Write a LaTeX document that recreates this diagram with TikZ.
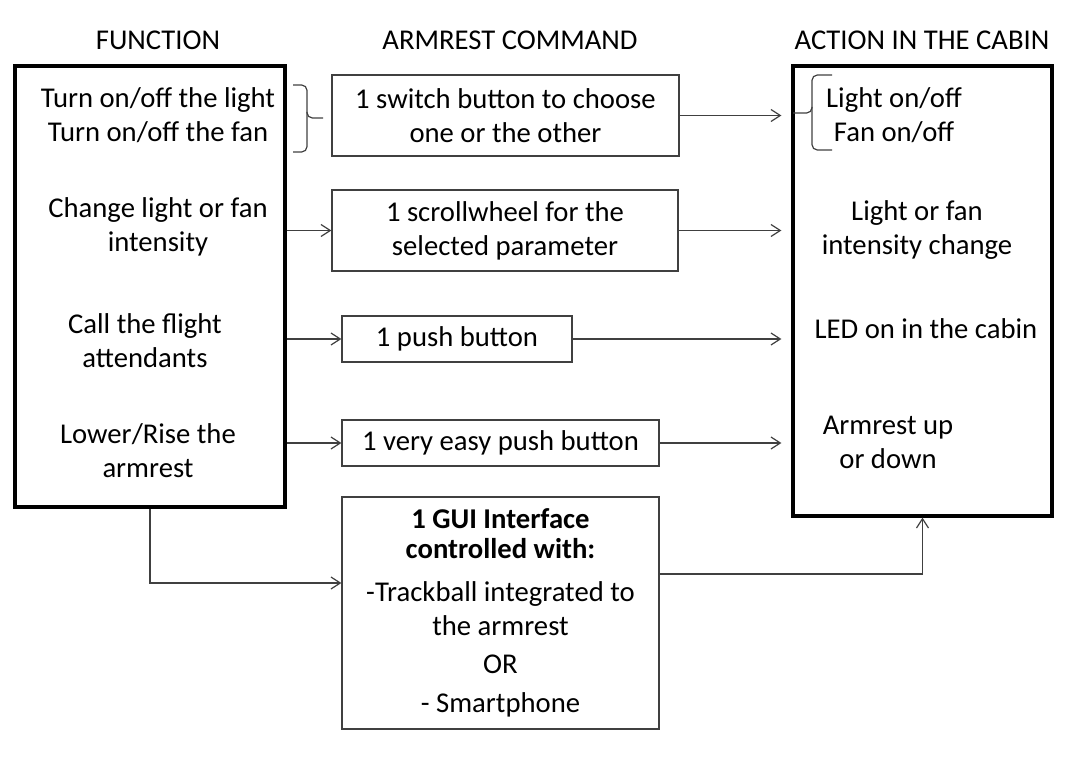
\documentclass[tikz,border=0pt]{standalone}
\usepackage{fontspec}
\setmainfont{Carlito}
\usetikzlibrary{arrows.meta,calc,positioning}

\begin{document}
\begin{tikzpicture}[x=0.75pt,y=-0.75pt,>={Straight Barb[length=7pt,width=9pt]},
  every node/.style={font=\fontsize{21.5}{25.5}\selectfont,align=center,inner sep=0pt},
  colbox/.style={draw=black,line width=2.4pt},
  cmdbox/.style={draw=black!75,line width=0.9pt},
  link/.style={->,draw=black!75,line width=0.9pt},
  brace/.style={draw=black!75,line width=0.9pt,rounded corners=4pt}]
\useasboundingbox (0,0) rectangle (1072,762);
% column headings
\node (hfun) at (158,40) {FUNCTION};
\node (hcmd) at (510,40) {ARMREST COMMAND};
\node (hact) at (922,40) {ACTION IN THE CABIN};
% the two outer columns
\node[colbox,minimum width=202.5pt,minimum height=330.75pt] (func) at (150,286.5) {};
\node[colbox,minimum width=194.25pt,minimum height=337.5pt] (act) at (922.5,291) {};
% functions
\node (fA) at (158,115) {Turn on/off the light\\Turn on/off the fan};
\node (fB) at (158,226.5) {Change light or fan\\intensity};
\node (fC) at (145,340.5) {Call the flight\\attendants};
\node (fD) at (148,450.5) {Lower/Rise the\\armrest};
% armrest commands
\node[cmdbox,minimum width=260.25pt,minimum height=60.75pt] (cmdA) at (505.5,115.5) {1 switch button to choose\\one or the other};
\node[cmdbox,minimum width=259.5pt,minimum height=60.75pt] (cmdB) at (505,230.5) {1 scrollwheel for the\\selected parameter};
\node[cmdbox,minimum width=172.5pt,minimum height=34.5pt] (cmdC) at (457,339) {1 push button};
\node[cmdbox,minimum width=237.75pt,minimum height=34.5pt] (cmdD) at (500.5,443) {1 very easy push button};
\node[cmdbox,minimum width=237.75pt,minimum height=174pt] (cmdE) at (500.5,613)
  {\textbf{1 GUI Interface}\\[-3pt]\textbf{controlled with:}\\[6.75pt]-Trackball integrated to\\the armrest\\[3pt]OR\\[3.75pt]- Smartphone};
% actions in the cabin
\node (aA) at (894,115) {Light on/off\\Fan on/off};
\node (aB) at (917,230.5) {Light or fan\\intensity change};
\node (aC) at (926,329) {LED on in the cabin};
\node (aD) at (888,442) {Armrest up\\or down};
% braces
\draw[brace] (293,85) -- (307,85) -- (307,118) -- (323,118);
\draw[brace] (307,112) -- (307,152) -- (293,152);
\draw[brace] (832,75) -- (812,75) -- (812,113) -- (793,113);
\draw[brace] (812,107) -- (812,150) -- (832,150);
% connectors
\draw[link] (cmdA.east) -- ([xshift=-7.5pt]act.west |- cmdA.east);
\draw[link] (func.east |- cmdB) -- (cmdB.west);
\draw[link] (cmdB.east) -- ([xshift=-7.5pt]act.west |- cmdB.east);
\draw[link] (func.east |- cmdC) -- (cmdC.west);
\draw[link] (cmdC.east) -- ([xshift=-7.5pt]act.west |- cmdC.east);
\draw[link] (func.east |- cmdD) -- (cmdD.west);
\draw[link] (cmdD.east) -- ([xshift=-7.5pt]act.west |- cmdD.east);
\draw[link] (func.south) |- ([yshift=22.5pt]cmdE.west);
\draw[link] ([yshift=29.25pt]cmdE.east) -| (act.south);
\end{tikzpicture}
\end{document}
